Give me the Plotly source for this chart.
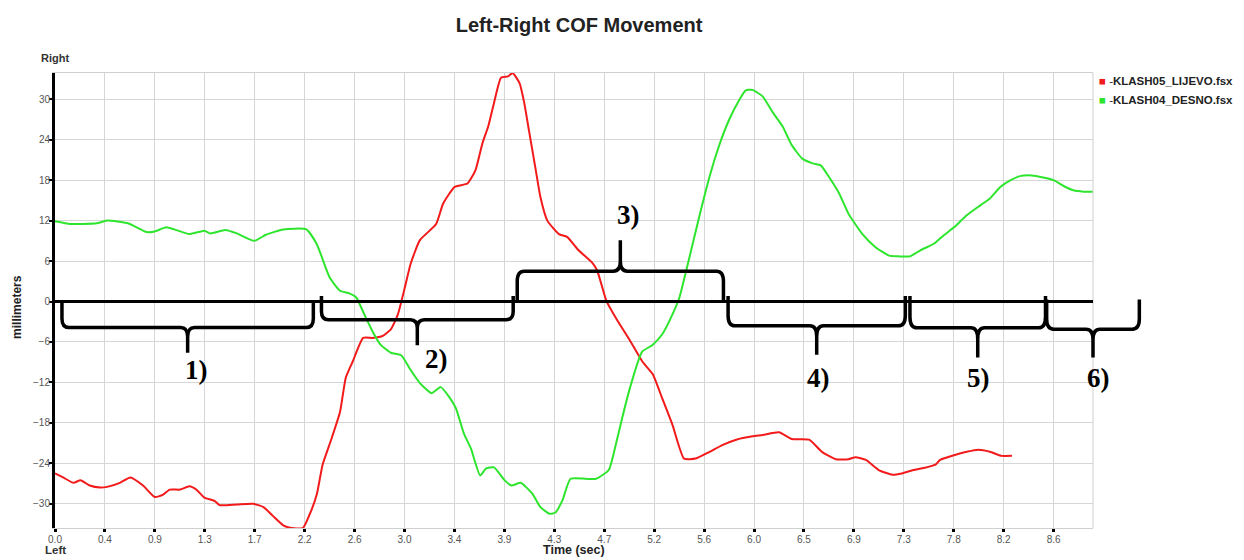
import plotly.graph_objects as go

# --- data --------------------------------------------------------------------
RED_NAME = "KLASH05_LIJEVO.fsx"
GREEN_NAME = "KLASH04_DESNO.fsx"

RED_T = [0.00, 0.07, 0.16, 0.22, 0.30, 0.39, 0.45, 0.56, 0.65, 0.76, 0.86, 0.93,
         0.99, 1.08, 1.16, 1.22, 1.29, 1.38, 1.42, 1.57, 1.71, 1.80, 1.88, 1.97,
         2.04, 2.14, 2.21, 2.26, 2.31, 2.38, 2.46, 2.51, 2.57, 2.66, 2.74, 2.83,
         2.90, 2.96, 3.02, 3.07, 3.15, 3.29, 3.35, 3.45, 3.56, 3.63, 3.69, 3.74,
         3.79, 3.85, 3.91, 3.95, 4.01, 4.05, 4.09, 4.15, 4.19, 4.25, 4.35, 4.42,
         4.52, 4.64, 4.68, 4.76, 4.84, 4.96, 5.07, 5.16, 5.24, 5.33, 5.43, 5.53,
         5.65, 5.76, 5.88, 6.02, 6.11, 6.25, 6.36, 6.51, 6.62, 6.74, 6.85, 6.91,
         7.00, 7.11, 7.23, 7.31, 7.41, 7.50, 7.60, 7.64, 7.76, 7.87, 7.97, 8.07,
         8.17, 8.26]
RED_MM = [-25.5, -26.1, -26.9, -26.5, -27.3, -27.6, -27.5, -26.9, -26.1, -27.3, -29.0, -28.7,
          -27.9, -27.9, -27.4, -27.9, -29.1, -29.6, -30.2, -30.1, -30.0, -30.5, -31.8, -33.2,
          -33.6, -33.6, -31.1, -28.6, -24.2, -20.7, -16.4, -11.3, -8.9, -5.4, -5.4, -5.1,
          -4.1, -1.9, 2.1, 5.6, 9.1, 11.5, 14.5, 17.0, 17.5, 19.5, 23.5, 26.0,
          29.5, 33.2, 33.4, 33.9, 32.4, 29.5, 25.5, 19.5, 15.5, 12.0, 10.0, 9.6,
          7.6, 5.7, 4.6, 0.1, -2.4, -5.7, -8.9, -10.8, -14.3, -18.3, -23.3, -23.3,
          -22.3, -21.3, -20.5, -20.0, -19.8, -19.4, -20.4, -20.5, -22.3, -23.4, -23.4, -23.1,
          -23.5, -25.0, -25.7, -25.5, -25.0, -24.7, -24.2, -23.5, -22.8, -22.3, -22.0, -22.3,
          -22.9, -22.9]

GREEN_T = [0.00, 0.13, 0.24, 0.36, 0.45, 0.63, 0.79, 0.86, 0.96, 1.03, 1.16, 1.29,
           1.34, 1.47, 1.57, 1.72, 1.82, 1.97, 2.17, 2.26, 2.37, 2.46, 2.54, 2.60,
           2.67, 2.74, 2.81, 2.90, 2.99, 3.06, 3.15, 3.25, 3.33, 3.40, 3.46, 3.53,
           3.59, 3.67, 3.72, 3.79, 3.88, 3.94, 4.02, 4.12, 4.19, 4.27, 4.32, 4.38,
           4.45, 4.58, 4.67, 4.78, 4.84, 4.90, 4.96, 5.05, 5.07, 5.16, 5.24, 5.33,
           5.39, 5.47, 5.56, 5.65, 5.73, 5.82, 5.91, 5.96, 6.02, 6.11, 6.19, 6.28,
           6.36, 6.45, 6.54, 6.61, 6.68, 6.77, 6.85, 6.97, 7.08, 7.20, 7.28, 7.38,
           7.47, 7.59, 7.67, 7.76, 7.87, 7.99, 8.07, 8.16, 8.25, 8.33, 8.43, 8.53,
           8.62, 8.71, 8.79, 8.88, 8.96]
GREEN_MM = [11.9, 11.5, 11.5, 11.6, 12.0, 11.6, 10.3, 10.4, 11.0, 10.7, 10.0, 10.5,
            10.1, 10.6, 10.1, 9.0, 9.9, 10.7, 10.7, 8.5, 3.6, 1.6, 1.2, 0.6,
            -1.9, -4.4, -6.4, -7.6, -8.0, -9.9, -12.1, -13.6, -12.7, -14.1, -15.8, -19.6,
            -21.8, -25.8, -24.8, -24.6, -26.5, -27.3, -26.9, -28.5, -30.5, -31.5, -31.3, -29.5,
            -26.3, -26.3, -26.3, -25.0, -21.3, -17.0, -13.0, -8.1, -7.4, -6.4, -4.9, -1.9,
            0.6, 6.1, 12.5, 18.5, 23.0, 27.0, 30.0, 31.3, 31.4, 30.4, 28.2, 26.0,
            23.2, 21.2, 20.5, 20.2, 18.5, 16.0, 13.0, 10.0, 8.1, 6.8, 6.7, 6.7,
            7.6, 8.6, 9.8, 11.0, 12.8, 14.3, 15.3, 17.0, 18.0, 18.6, 18.7, 18.4,
            18.0, 17.1, 16.5, 16.3, 16.3]

X_TICK_LABELS = ["0.0", "0.4", "0.9", "1.3", "1.7", "2.2", "2.6", "3.0", "3.4", "3.9", "4.3",
                 "4.7", "5.2", "5.6", "6.0", "6.5", "6.9", "7.3", "7.8", "8.2", "8.6"]
X_TICK_STEP = 0.431
Y_TICKS = [-30, -24, -18, -12, -6, 0, 6, 12, 18, 24, 30]

# hand drawn phase braces: start/end (s), top of the end strokes, bar level and tip (mm)
PHASE_LABELS = ["1)", "2)", "3)", "4)", "5)", "6)"]
PHASE_START = [0.06, 2.30, 3.99, 5.81, 7.38, 8.56]
PHASE_END = [2.23, 3.955, 5.77, 7.34, 8.55, 9.36]
PHASE_TOP = [0.0, 0.8, 0.2, 0.8, 0.8, 0.3]
PHASE_LEVEL = [-3.85, -2.7, 4.5, -3.6, -3.9, -4.1]
PHASE_TIP = [-7.6, -6.5, 9.1, -7.9, -8.3, -8.3]
PHASE_LABEL_T = [1.22, 3.29, 4.95, 6.59, 7.97, 9.01]
PHASE_LABEL_MM = [-10.2, -8.6, 12.8, -11.3, -11.3, -11.3]

X_MAX = 8.96
Y_MIN, Y_MAX = -33.6, 33.9

FONT = "Liberation Sans, Arial, sans-serif"
RED = "#f21a1a"
GREEN = "#2ee52e"


def px(t):
    return t / X_MAX


def py(v):
    return (v - Y_MIN) / (Y_MAX - Y_MIN)


def brace_path(t0, t1, top, level, tip):
    tm = (t0 + t1) / 2
    r = 0.06
    c = (top - level) * 0.35

    def p(t, v):
        return f"{px(t):.5f},{py(v):.5f}"

    return (f"M {p(t0, top)} L {p(t0, level + c)} Q {p(t0, level)} {p(t0 + r, level)} "
            f"L {p(tm - r, level)} Q {p(tm, level)} {p(tm, level - c)} L {p(tm, tip)} "
            f"M {p(tm, level - c)} Q {p(tm, level)} {p(tm + r, level)} "
            f"L {p(t1 - r, level)} Q {p(t1, level)} {p(t1, level + c)} L {p(t1, top)}")


fig = go.Figure()
fig.add_trace(go.Scatter(x=RED_T, y=RED_MM, mode="lines", name=RED_NAME,
                         line=dict(color=RED, width=2, shape="spline", smoothing=0.5),
                         showlegend=False))
fig.add_trace(go.Scatter(x=GREEN_T, y=GREEN_MM, mode="lines", name=GREEN_NAME,
                         line=dict(color=GREEN, width=2, shape="spline", smoothing=0.5),
                         showlegend=False))

shapes = [
    # right border of the plot frame
    dict(type="line", xref="paper", yref="paper", x0=1, x1=1, y0=0, y1=1,
         line=dict(color="#cfcfcf", width=1)),
    # black zero line drawn over the traces
    dict(type="line", xref="paper", yref="paper", x0=0, x1=1, y0=py(0), y1=py(0),
         line=dict(color="black", width=3)),
]
for i in range(len(PHASE_LABELS)):
    shapes.append(dict(type="path", xref="paper", yref="paper",
                       path=brace_path(PHASE_START[i], PHASE_END[i], PHASE_TOP[i],
                                       PHASE_LEVEL[i], PHASE_TIP[i]),
                       line=dict(color="black", width=3.5)))

annotations = [
    dict(text="<b>Right</b>", xref="paper", yref="paper", x=-0.015, y=1.033,
         xanchor="left", yanchor="middle", showarrow=False,
         font=dict(family=FONT, size=11, color="#333")),
    dict(text="<b>Left</b>", xref="paper", yref="paper", x=-0.012, y=-0.048,
         xanchor="left", yanchor="middle", showarrow=False,
         font=dict(family=FONT, size=11.5, color="#333")),
    dict(text="<b>Time (sec)</b>", xref="paper", yref="paper", x=0.5, y=-0.048,
         xanchor="center", yanchor="middle", showarrow=False,
         font=dict(family=FONT, size=12.5, color="#222")),
    dict(text="<b>millimeters</b>", xref="paper", yref="paper", x=-0.036, y=0.485,
         xanchor="center", yanchor="middle", textangle=-90, showarrow=False,
         font=dict(family=FONT, size=12, color="#222")),
]
legend_rows = [(RED, RED_NAME, 0.982), (GREEN, GREEN_NAME, 0.940)]
for color, name, ypos in legend_rows:
    annotations.append(dict(
        text=f'<span style="color:{color}">■</span> -<b>{name}</b>',
        xref="paper", yref="paper", x=1.004, y=ypos, xanchor="left", yanchor="middle",
        showarrow=False, font=dict(family=FONT, size=11.5, color="#222")))
for i, label in enumerate(PHASE_LABELS):
    annotations.append(dict(
        text=f"<b>{label}</b>", xref="paper", yref="paper",
        x=px(PHASE_LABEL_T[i]), y=py(PHASE_LABEL_MM[i]),
        xanchor="center", yanchor="middle", showarrow=False,
        font=dict(family="Liberation Serif, Times New Roman, serif", size=27, color="black")))

fig.update_layout(
    width=1244, height=560,
    margin=dict(l=55, r=151, t=73, b=32),
    paper_bgcolor="white", plot_bgcolor="white",
    title=dict(text="<b>Left-Right COF Movement</b>", x=0.4655, xanchor="center",
               y=0.955, yanchor="middle", font=dict(family=FONT, size=20, color="#222")),
    font=dict(family=FONT),
    shapes=shapes,
    annotations=annotations,
)
fig.update_xaxes(
    range=[0, X_MAX],
    automargin=False,
    tickmode="array",
    tickvals=[i * X_TICK_STEP for i in range(len(X_TICK_LABELS))],
    ticktext=X_TICK_LABELS,
    showgrid=True, gridcolor="#d6d6d6", gridwidth=1,
    showline=True, linecolor="#cfcfcf", linewidth=1, mirror=True,
    ticks="outside", ticklen=3, tickwidth=3, tickcolor="black",
    ticklabelstandoff=-1,
    tickfont=dict(family=FONT, size=10, color="#555"),
    zeroline=False,
)
fig.update_yaxes(
    range=[Y_MIN, Y_MAX],
    automargin=False,
    tickmode="array", tickvals=Y_TICKS,
    showgrid=True, gridcolor="#d6d6d6", gridwidth=1,
    showline=True, linecolor="black", linewidth=3,
    ticks="outside", ticklen=3, tickwidth=2, tickcolor="black",
    ticklabelstandoff=-3,
    tickfont=dict(family=FONT, size=10, color="#555"),
    zeroline=False,
)

# drop the browser's default body margin so the figure fills the window exactly
fig.write_html("out.html", config={"displayModeBar": False},
               post_script="document.body.style.margin='0';")
